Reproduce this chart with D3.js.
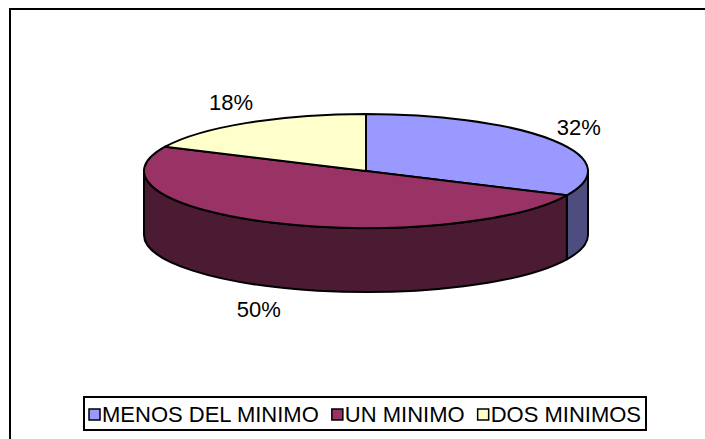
<!DOCTYPE html>
<html>
<head>
<meta charset="utf-8">
<script src="https://cdn.jsdelivr.net/npm/d3@7"></script>
<style>
  html, body { margin: 0; padding: 0; background: #fff; }
  svg { display: block; }
  text { font-family: Arial, "Liberation Sans", sans-serif; fill: #000; }
</style>
</head>
<body>
<svg id="chart" width="705" height="439"></svg>
<script>
// ---- data ----
const categories = ["MENOS DEL MINIMO", "UN MINIMO", "DOS MINIMOS"];
const values = [32, 50, 18];
const percentLabels = ["32%", "50%", "18%"];
const topColors = ["#9999FF", "#993366", "#FFFFCC"];
const sideColors = ["#4D4D80", "#4B1A33", "#80806A"];

// ---- layout ----
const W = 705, H = 439;
const cx = 366, cy = 171, rx = 222, ry = 57, depth = 64;
const svg = d3.select("#chart");

svg.append("rect").attr("width", W).attr("height", H).attr("fill", "#fff");
// outer chart border (extends beyond the visible area at right/bottom)
svg.append("rect")
  .attr("x", 10).attr("y", 9).attr("width", 740).attr("height", 480)
  .attr("fill", "none").attr("stroke", "#000").attr("stroke-width", 2);

const pie = d3.pie().sort(null).value(d => d).startAngle(0).endAngle(2 * Math.PI);
const arcs = pie(values).map((a, i) => ({...a, i}));

const P = (t, h = 0) => [cx + rx * Math.sin(t), cy - ry * Math.cos(t) + h];

function topPath(a) {
  const p = d3.path();
  const s = P(a.startAngle), e = P(a.endAngle);
  const large = (a.endAngle - a.startAngle) > Math.PI ? 1 : 0;
  p.moveTo(cx, cy);
  p.lineTo(s[0], s[1]);
  return p.toString() + `A${rx},${ry} 0 ${large} 1 ${e[0]},${e[1]}Z`;
}
function sidePath(a) {
  const s0 = Math.max(a.startAngle, Math.PI / 2);
  const e0 = Math.min(a.endAngle, 3 * Math.PI / 2);
  if (e0 <= s0) return null;
  const s = P(s0), e = P(e0), sb = P(s0, depth), eb = P(e0, depth);
  return `M${s[0]},${s[1]}A${rx},${ry} 0 0 1 ${e[0]},${e[1]}` +
         `L${eb[0]},${eb[1]}A${rx},${ry} 0 0 0 ${sb[0]},${sb[1]}Z`;
}

const g = svg.append("g");
g.selectAll("path.side").data(arcs.filter(a => sidePath(a)))
  .join("path").attr("class", "side")
  .attr("d", sidePath)
  .attr("fill", d => sideColors[d.i])
  .attr("stroke", "#000").attr("stroke-width", 2).attr("stroke-linejoin", "round");
g.selectAll("path.top").data(arcs)
  .join("path").attr("class", "top")
  .attr("d", topPath)
  .attr("fill", d => topColors[d.i])
  .attr("stroke", "#000").attr("stroke-width", 2).attr("stroke-linejoin", "round");

// percentage labels
const fontSize = 22;
svg.selectAll("text.pct").data(arcs).join("text").attr("class", "pct")
  .attr("x", d => { const m = (d.startAngle + d.endAngle) / 2; return cx + (rx + 30) * Math.sin(m); })
  .attr("y", d => { const m = (d.startAngle + d.endAngle) / 2; const c = Math.cos(m);
                    return cy - (ry + 25) * c + (c < 0 ? depth : 0); })
  .attr("dy", "0.36em")
  .attr("text-anchor", "middle")
  .attr("font-size", fontSize)
  .text(d => percentLabels[d.i]);

// legend
const lg = svg.append("g");
const box = {x: 84, y: 397, w: 562, h: 33};
lg.append("rect").attr("x", box.x).attr("y", box.y).attr("width", box.w).attr("height", box.h)
  .attr("fill", "#fff").attr("stroke", "#000").attr("stroke-width", 2);
const sq = 11, gapTxt = 2, pad = 5;
const items = categories.map((c, i) => {
  const it = lg.append("g");
  it.append("rect").attr("x", 0).attr("y", box.y + box.h / 2 - sq / 2 + 1)
    .attr("width", sq).attr("height", sq)
    .attr("fill", topColors[i]).attr("stroke", "#000").attr("stroke-width", 1.5);
  const t = it.append("text").attr("x", sq + gapTxt).attr("y", box.y + box.h / 2 + 1)
    .attr("dy", "0.36em").attr("font-size", fontSize).text(c);
  return {g: it, w: sq + gapTxt + t.node().getComputedTextLength()};
});
const totalW = d3.sum(items, d => d.w);
const gapItem = Math.max(4, (box.w - 2 * pad - totalW) / (items.length - 1));
let x = box.x + pad;
items.forEach(it => { it.g.attr("transform", `translate(${x},0)`); x += it.w + gapItem; });
</script>
</body>
</html>
